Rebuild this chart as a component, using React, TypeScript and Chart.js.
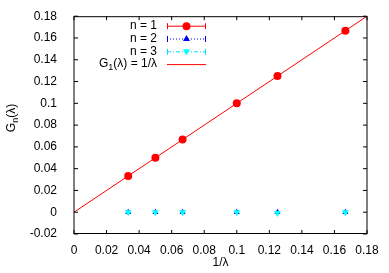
import React, { useEffect, useRef } from 'react';
import { Chart, registerables } from 'chart.js';
Chart.register(...registerables);

const xTicks = [0, 0.02, 0.04, 0.06, 0.08, 0.1, 0.12, 0.14, 0.16, 0.18];
const yTicks = [-0.02, 0, 0.02, 0.04, 0.06, 0.08, 0.1, 0.12, 0.14, 0.16, 0.18];
const invLambda = [0.0333, 0.05, 0.0667, 0.1, 0.125, 0.1667];
const gN1 = [0.0333, 0.05, 0.0667, 0.1, 0.125, 0.1667];
const gN2 = [0, 0, 0, 0, 0, 0];
const gN3 = [0, 0, 0, 0, -0.0008, 0];
const lineX = [0, 0.18];
const lineY = [0, 0.18];
const legendLabels = ['n = 1', 'n = 2', 'n = 3'];

const FONT = '"Liberation Sans", Arial, sans-serif';
const fmt = (v: number) => String(Number(v.toFixed(2)));

const framePlugin = {
  id: 'frame',
  afterDraw(chart: any) {
    const { ctx, chartArea: a, scales } = chart;
    ctx.save();
    ctx.strokeStyle = '#000';
    ctx.lineWidth = 1;
    ctx.beginPath();
    ctx.moveTo(a.left, a.top + 0.5);
    ctx.lineTo(a.right, a.top + 0.5);
    ctx.moveTo(a.left, a.bottom - 0.5);
    ctx.lineTo(a.right, a.bottom - 0.5);
    ctx.moveTo(a.left, a.top);
    ctx.lineTo(a.left, a.bottom);
    ctx.moveTo(a.right, a.top);
    ctx.lineTo(a.right, a.bottom);
    const tl = 4;
    xTicks.forEach((v) => {
      const px = scales.x.getPixelForValue(v);
      ctx.moveTo(px, a.bottom);
      ctx.lineTo(px, a.bottom - tl);
      ctx.moveTo(px, a.top);
      ctx.lineTo(px, a.top + tl);
    });
    yTicks.forEach((v) => {
      const py = scales.y.getPixelForValue(v);
      ctx.moveTo(a.left, py);
      ctx.lineTo(a.left + tl, py);
      ctx.moveTo(a.right, py);
      ctx.lineTo(a.right - tl, py);
    });
    ctx.stroke();

    // legend
    const big = '12px ' + FONT;
    const small = '9px ' + FONT;
    ctx.fillStyle = '#000';
    ctx.textBaseline = 'middle';
    const rows = [25.7, 38.5, 51.3, 64.1];
    const tx = 157;
    const sx0 = 167, sx1 = 206, sc = (sx0 + sx1) / 2;
    ctx.font = big;
    ctx.textAlign = 'right';
    legendLabels.forEach((l, i) => ctx.fillText(l, tx, rows[i]));
    ctx.textAlign = 'left';
    const p1 = 'G', p3 = '(λ) = 1/λ';
    ctx.font = big;
    const w1 = ctx.measureText(p1).width;
    const w3 = ctx.measureText(p3).width;
    ctx.font = small;
    const w2 = ctx.measureText('1').width;
    const x = tx - (w1 + w2 + w3);
    ctx.font = big;
    ctx.fillText(p1, x, rows[3]);
    ctx.font = small;
    ctx.fillText('1', x + w1, rows[3] + 3.5);
    ctx.font = big;
    ctx.fillText(p3, x + w1 + w2, rows[3]);

    const sample = (y: number, color: string, dash: number[], caps: boolean) => {
      ctx.save();
      ctx.strokeStyle = color;
      ctx.lineWidth = 1;
      ctx.setLineDash(dash);
      ctx.beginPath();
      ctx.moveTo(sx0, y + 0.5);
      ctx.lineTo(sx1, y + 0.5);
      ctx.stroke();
      ctx.setLineDash([]);
      if (caps) {
        ctx.beginPath();
        ctx.moveTo(sx0 + 0.5, y - 2.5);
        ctx.lineTo(sx0 + 0.5, y + 3.5);
        ctx.moveTo(sx1 - 0.5, y - 2.5);
        ctx.lineTo(sx1 - 0.5, y + 3.5);
        ctx.stroke();
      }
      ctx.restore();
    };
    sample(rows[0], '#ff0000', [], true);
    sample(rows[1], '#0000ff', [1, 2], true);
    sample(rows[2], '#00e0ff', [4, 2, 1, 2], true);
    sample(rows[3], '#ff0000', [], false);
    ctx.fillStyle = '#ff0000';
    ctx.beginPath();
    ctx.arc(sc, rows[0] + 0.5, 4, 0, Math.PI * 2);
    ctx.fill();
    ctx.fillStyle = '#0000ff';
    ctx.beginPath();
    ctx.moveTo(sc, rows[1] - 3.5);
    ctx.lineTo(sc + 3.5, rows[1] + 2.5);
    ctx.lineTo(sc - 3.5, rows[1] + 2.5);
    ctx.closePath();
    ctx.fill();
    ctx.fillStyle = '#00ffff';
    ctx.beginPath();
    ctx.moveTo(sc, rows[2] + 4);
    ctx.lineTo(sc + 3.5, rows[2] - 2);
    ctx.lineTo(sc - 3.5, rows[2] - 2);
    ctx.closePath();
    ctx.fill();

    // x title
    ctx.fillStyle = '#000';
    ctx.font = big;
    ctx.textAlign = 'center';
    ctx.fillText('1/λ', (a.left + a.right) / 2, 263);

    // y title rotated
    ctx.save();
    ctx.translate(12, 118);
    ctx.rotate(-Math.PI / 2);
    ctx.textAlign = 'left';
    ctx.font = big;
    const g = ctx.measureText('G').width;
    const r = ctx.measureText('(λ)').width;
    ctx.font = small;
    const n = ctx.measureText('n').width;
    const start = -(g + n + r) / 2;
    ctx.font = big;
    ctx.fillText('G', start, 0);
    ctx.font = small;
    ctx.fillText('n', start + g, 3.5);
    ctx.font = big;
    ctx.fillText('(λ)', start + g + n, 0);
    ctx.restore();

    ctx.restore();
  },
};

export default function App() {
  const ref = useRef<HTMLCanvasElement>(null);
  useEffect(() => {
    if (!ref.current) return;
    Chart.defaults.font.family = FONT;
    const pts = (xs: number[], ys: number[]) => xs.map((x, i) => ({ x, y: ys[i] }));
    const chart = new Chart(ref.current, {
      type: 'scatter',
      data: {
        datasets: [
          {
            label: 'G1(λ) = 1/λ',
            data: pts(lineX, lineY),
            showLine: true,
            borderColor: '#ff0000',
            borderWidth: 1,
            pointRadius: 0,
          },
          {
            label: 'n = 3',
            data: pts(invLambda, gN3),
            pointStyle: 'triangle',
            rotation: 180,
            pointRadius: 4,
            backgroundColor: '#00ffff',
            borderColor: '#00ffff',
            borderWidth: 0,
          },
          {
            label: 'n = 2',
            data: pts(invLambda, gN2),
            pointStyle: 'triangle',
            pointRadius: 3.5,
            backgroundColor: '#0000ff',
            borderColor: '#0000ff',
            borderWidth: 0,
          },
          {
            label: 'n = 1',
            data: pts(invLambda, gN1),
            pointStyle: 'circle',
            pointRadius: 4,
            backgroundColor: '#ff0000',
            borderColor: '#ff0000',
            borderWidth: 0,
          },
        ],
      } as any,
      options: {
        animation: false,
        responsive: true,
        maintainAspectRatio: false,
        layout: { padding: { top: 15, right: 22, left: 0, bottom: 0 } },
        plugins: { legend: { display: false }, tooltip: { enabled: false } },
        scales: {
          x: {
            type: 'linear',
            min: 0,
            max: 0.18,
            grid: { display: false },
            border: { display: false },
            ticks: {
              padding: 1,
              autoSkip: false,
              maxRotation: 0,
              color: '#000',
              font: { size: 12, family: FONT },
              callback: (v: any) => fmt(Number(v)),
            },
            afterBuildTicks: (s: any) => {
              s.ticks = xTicks.map((v) => ({ value: v }));
            },
            afterFit: (s: any) => {
              s.height = 39;
            },
          },
          y: {
            type: 'linear',
            min: -0.02,
            max: 0.18,
            grid: { display: false },
            border: { display: false },
            ticks: {
              padding: 9,
              autoSkip: false,
              color: '#000',
              font: { size: 12, family: FONT },
              callback: (v: any) => fmt(Number(v)),
            },
            afterBuildTicks: (s: any) => {
              s.ticks = yTicks.map((v) => ({ value: v }));
            },
            afterFit: (s: any) => {
              s.width = 74;
            },
          },
        },
      } as any,
      plugins: [framePlugin],
    });
    return () => chart.destroy();
  }, []);
  return (
    <div style={{ position: 'fixed', left: 0, top: 0, width: 389, height: 273, background: '#fff' }}>
      <canvas ref={ref} />
    </div>
  );
}
